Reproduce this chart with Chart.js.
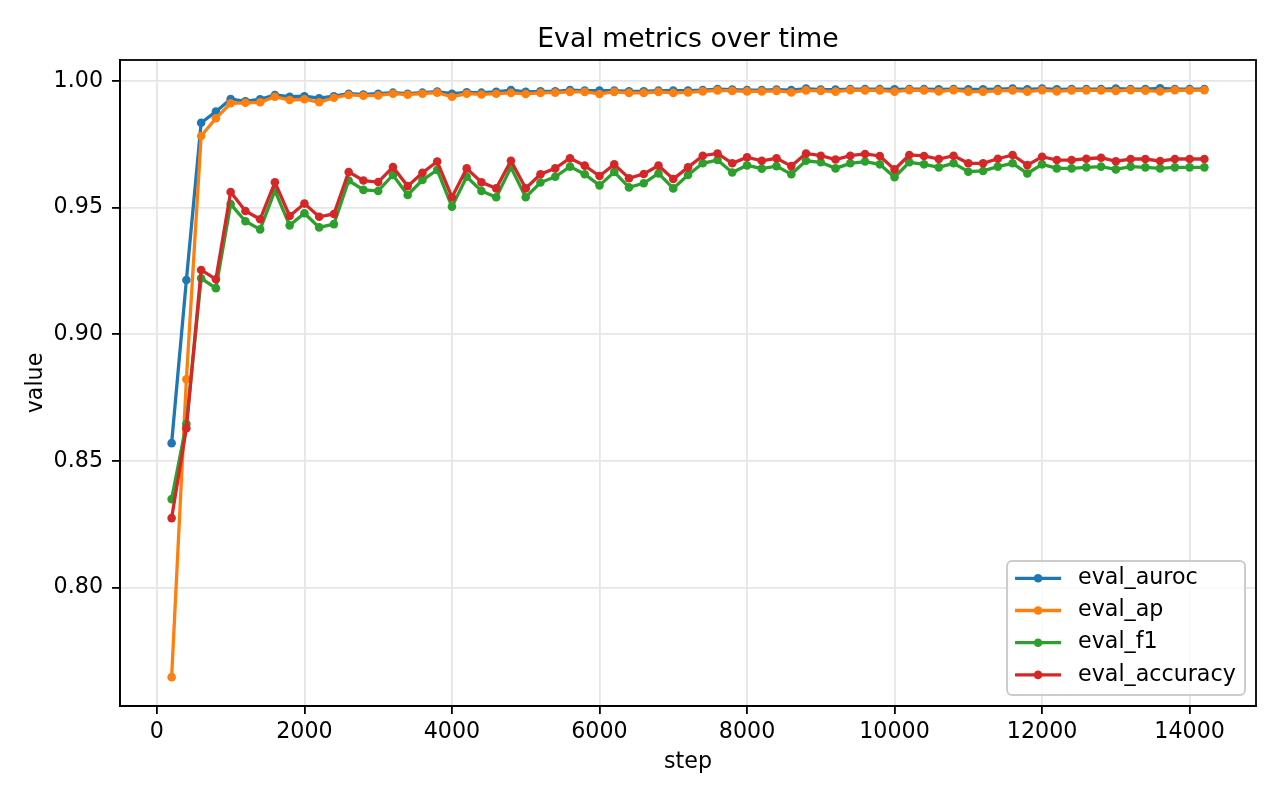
<!DOCTYPE html>
<html>
<head>
<title>Eval metrics</title>
<style>
body { margin: 0; background: #fff; }
#wrap { width: 1280px; height: 800px; }
</style>
</head>
<body>
<script src="https://cdn.jsdelivr.net/npm/chart.js"></script>
<div id="wrap"><canvas id="myChart" width="1280" height="800"></canvas></div>
<script>
// values
var steps = [200, 400, 600, 800, 1000, 1200, 1400, 1600, 1800, 2000,
    2200, 2400, 2600, 2800, 3000, 3200, 3400, 3600, 3800, 4000,
    4200, 4400, 4600, 4800, 5000, 5200, 5400, 5600, 5800, 6000,
    6200, 6400, 6600, 6800, 7000, 7200, 7400, 7600, 7800, 8000,
    8200, 8400, 8600, 8800, 9000, 9200, 9400, 9600, 9800, 10000,
    10200, 10400, 10600, 10800, 11000, 11200, 11400, 11600, 11800, 12000,
    12200, 12400, 12600, 12800, 13000, 13200, 13400, 13600, 13800, 14000, 14200];

var evalAuroc = [0.8570, 0.9214, 0.9835, 0.9879, 0.9929, 0.9920, 0.9928, 0.9945, 0.9938, 0.9940,
    0.9932, 0.9940, 0.9950, 0.9947, 0.9950, 0.9954, 0.9950, 0.9954, 0.9958, 0.9950,
    0.9955, 0.9954, 0.9957, 0.9964, 0.9957, 0.9959, 0.9959, 0.9964, 0.9962, 0.9962,
    0.9962, 0.9959, 0.9959, 0.9962, 0.9962, 0.9962, 0.9964, 0.9968, 0.9966, 0.9964,
    0.9964, 0.9966, 0.9964, 0.9970, 0.9966, 0.9966, 0.9968, 0.9968, 0.9968, 0.9967,
    0.9968, 0.9968, 0.9967, 0.9968, 0.9967, 0.9967, 0.9968, 0.9970, 0.9967, 0.9970,
    0.9967, 0.9968, 0.9968, 0.9968, 0.9970, 0.9968, 0.9968, 0.9971, 0.9968, 0.9968, 0.9968];

var evalAp = [0.7646, 0.8822, 0.9783, 0.9853, 0.9912, 0.9914, 0.9916, 0.9938, 0.9925, 0.9928,
    0.9916, 0.9934, 0.9945, 0.9942, 0.9943, 0.9950, 0.9946, 0.9950, 0.9954, 0.9938,
    0.9950, 0.9947, 0.9950, 0.9953, 0.9949, 0.9953, 0.9954, 0.9957, 0.9957, 0.9949,
    0.9957, 0.9953, 0.9953, 0.9957, 0.9953, 0.9955, 0.9959, 0.9963, 0.9961, 0.9959,
    0.9959, 0.9961, 0.9955, 0.9963, 0.9961, 0.9958, 0.9964, 0.9963, 0.9963, 0.9958,
    0.9964, 0.9963, 0.9959, 0.9964, 0.9958, 0.9958, 0.9961, 0.9963, 0.9958, 0.9964,
    0.9959, 0.9963, 0.9963, 0.9963, 0.9961, 0.9964, 0.9962, 0.9959, 0.9964, 0.9963, 0.9964];

var evalF1 = [0.8349, 0.8646, 0.9221, 0.9182, 0.9514, 0.9446, 0.9414, 0.9567, 0.9430, 0.9478,
    0.9422, 0.9435, 0.9607, 0.9570, 0.9566, 0.9629, 0.9550, 0.9609, 0.9649, 0.9504,
    0.9622, 0.9566, 0.9541, 0.9659, 0.9541, 0.9599, 0.9622, 0.9662, 0.9632, 0.9588,
    0.9641, 0.9580, 0.9596, 0.9635, 0.9576, 0.9629, 0.9675, 0.9688, 0.9639, 0.9667,
    0.9654, 0.9664, 0.9632, 0.9685, 0.9679, 0.9655, 0.9675, 0.9682, 0.9671, 0.9620,
    0.9679, 0.9671, 0.9659, 0.9675, 0.9642, 0.9645, 0.9662, 0.9675, 0.9635, 0.9671,
    0.9655, 0.9655, 0.9659, 0.9662, 0.9651, 0.9662, 0.9659, 0.9655, 0.9659, 0.9659, 0.9659];

var evalAccuracy = [0.8274, 0.8629, 0.9254, 0.9217, 0.9562, 0.9487, 0.9454, 0.9600, 0.9467, 0.9516,
    0.9464, 0.9475, 0.9641, 0.9607, 0.9601, 0.9660, 0.9585, 0.9638, 0.9682, 0.9541,
    0.9655, 0.9600, 0.9576, 0.9685, 0.9576, 0.9632, 0.9655, 0.9695, 0.9666, 0.9625,
    0.9671, 0.9616, 0.9633, 0.9666, 0.9613, 0.9659, 0.9705, 0.9714, 0.9675, 0.9699,
    0.9685, 0.9695, 0.9664, 0.9714, 0.9705, 0.9690, 0.9705, 0.9712, 0.9704, 0.9651,
    0.9708, 0.9704, 0.9692, 0.9705, 0.9675, 0.9675, 0.9693, 0.9708, 0.9668, 0.9701,
    0.9688, 0.9688, 0.9693, 0.9697, 0.9683, 0.9692, 0.9692, 0.9684, 0.9692, 0.9692, 0.9692];

var xTicks = [0, 2000, 4000, 6000, 8000, 10000, 12000, 14000];
var yTicks = [0.80, 0.85, 0.90, 0.95, 1.00];

var chartTitle = 'Eval metrics over time';
var seriesNames = ['eval_auroc', 'eval_ap', 'eval_f1', 'eval_accuracy'];
var seriesColors = ['#1f77b4', '#ff7f0e', '#2ca02c', '#d62728'];
var seriesValues = [evalAuroc, evalAp, evalF1, evalAccuracy];

Chart.defaults.font.family = "'DejaVu Sans', sans-serif";
Chart.defaults.color = '#000';

function pairs(ys) {
    var out = [];
    steps.forEach((s, i) => { out.push({x: s, y: ys[i]}); });
    return out;
}

var datasets = seriesNames.map((name, i) => ({
    label: name,
    data: pairs(seriesValues[i]),
    borderColor: seriesColors[i],
    backgroundColor: seriesColors[i],
    pointBackgroundColor: seriesColors[i],
    pointBorderWidth: 0,
    pointRadius: 4.3,
    borderWidth: 3.3,
    tension: 0,
    fill: false,
    order: seriesNames.length - i   // later series on top, like matplotlib
}));

// title over the plot area, frame on all four sides, legend box inside the plot
const framePlugin = {
    id: 'frame',
    afterDraw(chart) {
        const c = chart.ctx, a = chart.chartArea;
        c.save();
        c.strokeStyle = '#000';
        c.lineWidth = 1.8;
        c.strokeRect(a.left, a.top, a.right - a.left, a.bottom - a.top);

        c.fillStyle = '#000';
        c.font = '26.7px "DejaVu Sans"';
        c.textAlign = 'center';
        c.textBaseline = 'alphabetic';
        c.fillText(chartTitle, (a.left + a.right) / 2, a.top - 13.3);

        // legend
        c.font = '22.2px "DejaVu Sans"';
        var maxW = 0;
        seriesNames.forEach(n => { maxW = Math.max(maxW, c.measureText(n).width); });
        var boxW = 9 + 44.4 + 17.8 + maxW + 9;
        var rowH = 32.2;
        var boxH = 134;
        var right = a.right - 11, bottom = a.bottom - 11;
        var left = right - boxW, top = bottom - boxH;
        c.beginPath();
        c.roundRect(left, top, boxW, boxH, 5);
        c.fillStyle = 'rgba(255,255,255,0.8)';
        c.fill();
        c.strokeStyle = '#cccccc';
        c.lineWidth = 2;
        c.stroke();
        seriesNames.forEach((n, i) => {
            var cy = top + 17.3 + rowH * i;
            c.strokeStyle = seriesColors[i];
            c.lineWidth = 3.3;
            c.beginPath();
            c.moveTo(left + 8, cy);
            c.lineTo(left + 8 + 46, cy);
            c.stroke();
            c.fillStyle = seriesColors[i];
            c.beginPath();
            c.arc(left + 8 + 23, cy, 4.3, 0, Math.PI * 2);
            c.fill();
            c.fillStyle = '#000';
            c.textBaseline = 'middle';
            c.textAlign = 'left';
            c.fillText(n, left + 71, cy);
        });
        c.restore();
    }
};

const ctx = document.getElementById('myChart').getContext('2d');
const myChart = new Chart(ctx, {
    type: 'line',
    data: { datasets: datasets },
    plugins: [framePlugin],
    options: {
        responsive: false,
        animation: false,
        layout: { padding: { left: 0, right: 24, top: 60, bottom: 0 } },
        plugins: {
            legend: { display: false },
            tooltip: { enabled: false },
            title: { display: false }
        },
        scales: {
            x: {
                type: 'linear',
                min: -500,
                max: 14900,
                afterFit: s => { s.height = 94; },
                afterBuildTicks: s => { s.ticks = xTicks.map(v => ({ value: v })); },
                ticks: {
                    font: { size: 22.2 },
                    padding: 5,
                    maxRotation: 0,
                    autoSkip: false,
                    callback: v => String(v)
                },
                grid: {
                    color: '#e6e6e6',
                    lineWidth: 1.8,
                    tickColor: '#000',
                    tickLength: 8,
                    tickWidth: 1.8
                },
                border: { color: '#000', width: 1.8 },
                title: {
                    display: true,
                    text: 'step',
                    font: { size: 22.2 },
                    padding: { top: 0, bottom: 24 }
                }
            },
            y: {
                min: 0.7532,
                max: 1.0083,
                afterFit: s => { s.width = 120; },
                afterBuildTicks: s => { s.ticks = yTicks.map(v => ({ value: v })); },
                ticks: {
                    font: { size: 22.2 },
                    padding: 9,
                    autoSkip: false,
                    callback: v => v.toFixed(2)
                },
                grid: {
                    color: '#e6e6e6',
                    lineWidth: 1.8,
                    tickColor: '#000',
                    tickLength: 8,
                    tickWidth: 1.8
                },
                border: { color: '#000', width: 1.8 },
                title: {
                    display: true,
                    text: 'value',
                    font: { size: 22.2 },
                    padding: { top: 23, bottom: 0 }
                }
            }
        }
    }
});
</script>
</body>
</html>
